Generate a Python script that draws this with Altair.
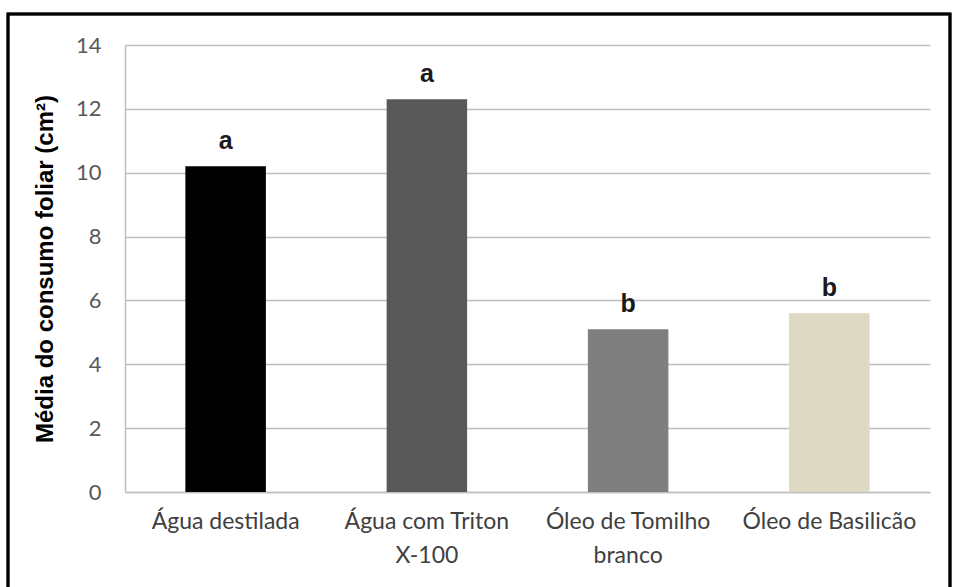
import altair as alt
import pandas as pd

categories = ["Água destilada", "Água com Triton X-100", "Óleo de Tomilho branco", "Óleo de Basilicão"]
values = [10.2, 12.3, 5.1, 5.6]
letters = ["a", "a", "b", "b"]
colors = ["#000000", "#595959", "#7f7f7f", "#ddd9c3"]
tick_values = [0, 2, 4, 6, 8, 10, 12, 14]

df = pd.DataFrame({"cat": categories, "val": values, "letter": letters})

W, H = 805, 447

label_expr = ("datum.value == 'Água com Triton X-100' ? ['Água com Triton', 'X-100'] : "
              "datum.value == 'Óleo de Tomilho branco' ? ['Óleo de Tomilho', 'branco'] : datum.value")

x = alt.X("cat:N", sort=categories, title=None,
          scale=alt.Scale(paddingInner=0.6, paddingOuter=0.3),
          axis=alt.Axis(labelAngle=0, labelExpr=label_expr, labelFont="Lato",
                        labelFontSize=23, labelColor="#404040", labelPadding=18, labelLineHeight=34,
                        ticks=False, domainColor="#bfbfbf", domainWidth=1.5, grid=False,
                        labelBaseline="top"))
y = alt.Y("val:Q", title="Média do consumo foliar (cm²)",
          scale=alt.Scale(domain=[0, 14], nice=False),
          axis=alt.Axis(values=tick_values, labelFont="Lato", labelFontSize=22,
                        labelColor="#595959", labelPadding=24, ticks=False,
                        domain=True, domainColor="#bfbfbf", domainWidth=1.5,
                        gridColor="#bfbfbf", gridWidth=1.5,
                        titleFont="Liberation Sans", titleFontSize=24, titleFontWeight="bold",
                        titleColor="#000000", titlePadding=18))

bars = alt.Chart(df).mark_bar().encode(
    x=x, y=y,
    color=alt.Color("cat:N", sort=categories,
                    scale=alt.Scale(domain=categories, range=colors), legend=None),
)

text = alt.Chart(df).mark_text(dy=-17, baseline="alphabetic", font="Liberation Sans", fontSize=25,
                               fontWeight="bold", color="#1a1a1a").encode(
    x=alt.X("cat:N", sort=categories), y="val:Q", text="letter:N")

border = alt.Chart(df).mark_rect(fill=None, stroke="#000000", strokeWidth=2.5).encode(
    x=alt.value(-117), x2=alt.value(W + 20), y=alt.value(-31), y2=alt.value(H + 100))

chart = alt.layer(bars, text, border).properties(
    width=W, height=H,
    padding={"left": 125, "top": 45, "right": 27, "bottom": 95},
    autosize=alt.AutoSizeParams(type="none"),
).configure_view(stroke=None)

chart.save("out.html", embed_options={"renderer": "svg", "actions": False})
